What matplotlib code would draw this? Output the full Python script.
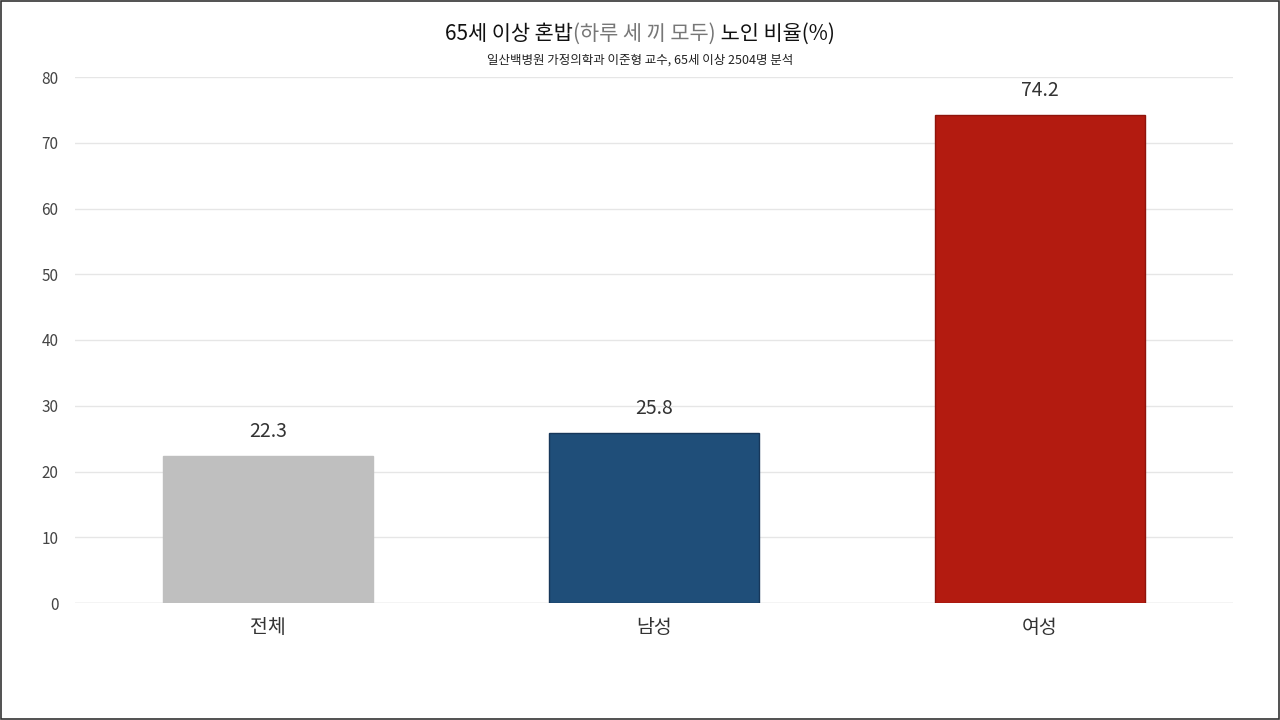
import matplotlib
matplotlib.use('Agg')
import matplotlib.pyplot as plt
from matplotlib.patches import Rectangle

plt.rcParams['font.family'] = ['Noto Sans CJK KR', 'DejaVu Sans']

categories = ['전체', '남성', '여성']
values = [22.3, 25.8, 74.2]
colors = ['#bfbfbf', '#1f4e79', '#b31b10']
edges = ['#bfbfbf', '#17375a', '#8f140b']
yticks = [0, 10, 20, 30, 40, 50, 60, 70, 80]

fig = plt.figure(figsize=(12.8, 7.2), dpi=100)
ax = fig.add_axes([75/1280, 1-603/720, 1158/1280, 526/720])

x = range(len(categories))
ax.bar(x, values, width=0.545, color=colors, edgecolor=edges, linewidth=1, zorder=3)
for i, v in zip(x, values):
    ax.text(i, v + 2.2, f'{v:.1f}', ha='center', va='bottom', fontsize=14, color='#333333')

ax.set_xlim(-0.5, 2.5)
ax.set_ylim(0, 80)
ax.set_yticks(yticks)
ax.set_xticks(list(x))
ax.set_xticklabels(categories, fontsize=14, color='#333333')
ax.tick_params(axis='y', labelsize=11, colors='#444444', length=0, pad=12)
ax.tick_params(axis='x', length=0, pad=10)
ax.grid(axis='y', color='#e6e6e6', linewidth=1, zorder=0)
for s in ax.spines.values():
    s.set_visible(False)
ax.axhline(0, color='#e0e0e0', linewidth=1, zorder=2)

# title in three pieces with the middle one grey
parts = [('65세 이상 혼밥', '#111111'), ('(하루 세 끼 모두)', '#777777'), (' 노인 비율(%)', '#111111')]
r = fig.canvas.get_renderer()
texts = [fig.text(0, 0, t, color=c, fontsize=15) for t, c in parts]
widths = [t.get_window_extent(r).width for t in texts]
xpos = 640 - sum(widths) / 2
for t, w in zip(texts, widths):
    t.set_position((xpos / 1280, 1 - 40/720))
    xpos += w
fig.text(0.5, 1 - 60/720, '일산백병원 가정의학과 이준형 교수, 65세 이상 2504명 분석',
         ha='center', va='center', fontsize=9, color='#222222')

fig.add_artist(Rectangle((0.001, 0.001), 0.998, 0.998, transform=fig.transFigure,
                         fill=False, edgecolor='#333333', linewidth=1.2))
fig.savefig('out.png', dpi=100)
